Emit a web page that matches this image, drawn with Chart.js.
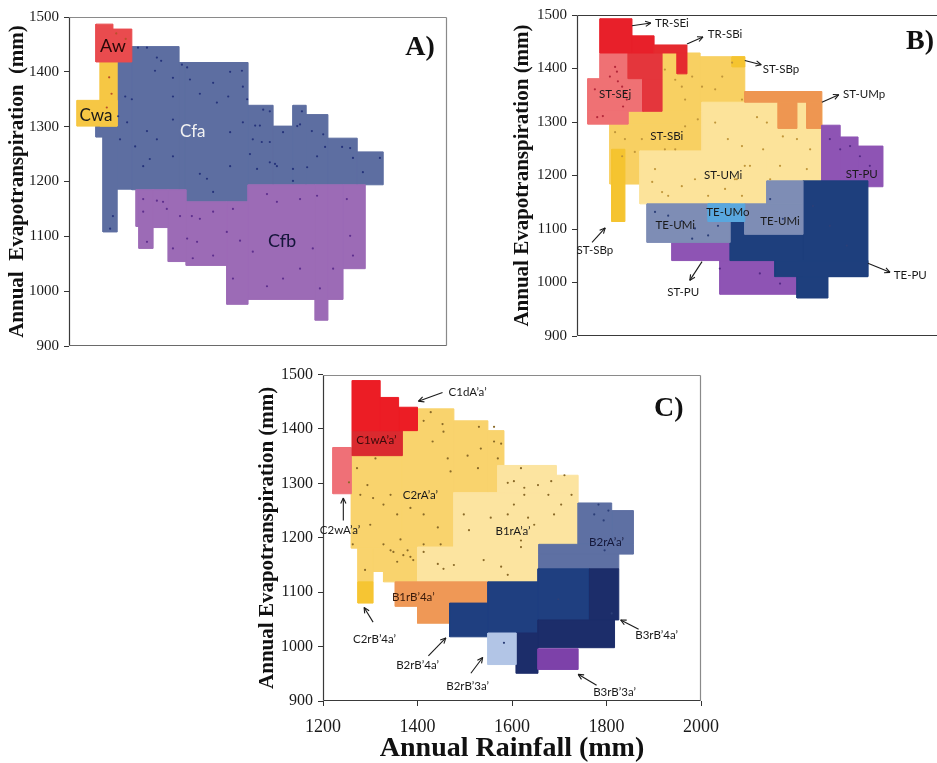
<!DOCTYPE html>
<html><head><meta charset="utf-8">
<script src="https://cdn.jsdelivr.net/npm/chart.js@4.4.1/dist/chart.umd.min.js"></script>
<style>
html,body{margin:0;padding:0;background:#fff;}
body{width:937px;height:763px;overflow:hidden;position:relative;}
canvas{position:absolute;}
</style></head><body>
<canvas id="cA" width="470" height="360" style="left:0px;top:0px"></canvas>
<canvas id="cB" width="460" height="350" style="left:505px;top:0px"></canvas>
<canvas id="cC" width="479" height="403" style="left:250px;top:360px"></canvas>
<script>
// ---- axes ----
const Y_TICKS = [900, 1000, 1100, 1200, 1300, 1400, 1500];
const X_TICKS = [1200, 1400, 1600, 1800, 2000];

// ---- regions: [rainfall from, rainfall to, ET from, ET to] ----
// Panel A (Köppen)
const A_AW  = [[1257,1333,1418,1478],[1257,1293,1478,1487]];
const A_CWA = [[1266,1302,1301,1418],[1217,1302,1301,1348]];
const A_CFA = [[1302,1333,1186,1418],[1333,1433,1185,1446],[1433,1446,1185,1417],[1446,1579,1163,1417],
  [1579,1632,1194,1339],[1632,1674,1194,1301],[1674,1702,1194,1339],[1702,1748,1194,1322],
  [1748,1810,1194,1279],[1810,1865,1194,1254],[1257,1302,1281,1301],[1272,1302,1108,1281]];
const A_CFB = [[1342,1348,1118,1185],[1348,1378,1078,1185],[1378,1410,1116,1185],[1410,1448,1054,1185],
  [1448,1534,1047,1163],[1534,1579,976,1163],[1579,1721,985,1194],[1721,1748,947,1194],
  [1748,1780,985,1194],[1780,1827,1041,1194]];
// Panel B (Holdridge-type zones)
const B_TRSEI  = [[1249,1317,1429,1493],[1317,1364,1429,1461]];
const B_TRSEI2 = [[1309,1381,1381,1429],[1340,1381,1320,1381]];
const B_TRSBI  = [[1364,1434,1429,1444],[1413,1434,1390,1429]];
const B_STSEJ  = [[1249,1309,1381,1429],[1223,1340,1320,1381],[1223,1309,1296,1320]];
const B_STSBI  = [[1270,1466,1184,1296],[1309,1466,1296,1320],[1381,1462,1320,1429],[1462,1557,1320,1422]];
const B_STUMI  = [[1466,1721,1190,1337],[1334,1604,1147,1246]];
const B_STSBP  = [[1274,1302,1114,1249],[1530,1557,1403,1422]];
const B_STUMP  = [[1557,1721,1337,1357],[1628,1668,1288,1337],[1689,1721,1288,1337]];
const B_STPU   = [[1721,1760,1179,1294],[1760,1798,1179,1272],[1798,1851,1179,1255],[1402,1526,1041,1075],[1504,1668,978,1041]];
const B_TEPU   = [[1681,1819,1011,1190],[1526,1681,1041,1114],[1621,1819,1011,1041],[1668,1734,971,1011]];
const B_TEUMI  = [[1349,1526,1075,1147],[1557,1681,1090,1147],[1604,1681,1147,1190]];
const B_TEUMO  = [[1479,1557,1114,1147]];
// Panel C (Thornthwaite)
const C_C1DA = [[1262,1321,1397,1489],[1321,1360,1397,1458],[1360,1400,1397,1440]];
const C_C1WA = [[1262,1368,1351,1397]];
const C_C2WA = [[1221,1260,1281,1366]];
const C_C2RA = [[1260,1368,1181,1351],[1368,1400,1181,1397],[1400,1477,1183,1437],[1477,1549,1283,1415],
  [1549,1583,1283,1397],[1274,1306,1119,1181],[1306,1328,1138,1181],[1328,1400,1119,1181]];
const C_B1RA = [[1570,1694,1283,1333],[1694,1740,1283,1315],[1477,1740,1183,1283],[1400,1657,1119,1183]];
const C_B2RA = [[1740,1811,1188,1264],[1811,1857,1188,1250],[1657,1857,1170,1188],[1657,1826,1143,1170]];
const C_B1RB4 = [[1353,1549,1080,1119],[1353,1400,1074,1080],[1400,1468,1043,1080]];
const C_C2RB4 = [[1274,1306,1080,1119]];
const C_B2RB4 = [[1468,1549,1018,1080],[1549,1655,1025,1119],[1655,1764,1049,1143]];
const C_B3RB4 = [[1764,1826,1049,1143],[1655,1817,998,1049],[1609,1655,951,1025]];
const C_B2RB3 = [[1549,1609,967,1025]];
const C_B3RB3 = [[1655,1740,958,996]];

// ---- station dots: [rainfall, ET] ----
const A_DOTS_CFA = [[1346,1444],[1365,1444],[1386,1426],[1395,1420],[1439,1413],[1450,1408],[1382,1402],[1420,1389],
 [1541,1400],[1456,1386],[1505,1380],[1319,1355],[1333,1350],[1420,1355],[1477,1360],[1513,1344],[1537,1355],
 [1304,1319],[1323,1308],[1365,1292],[1386,1277],[1420,1313],[1541,1290],[1308,1277],[1340,1264],[1371,1241],
 [1420,1246],[1357,1228],[1541,1228],[1477,1214],[1566,1402],[1568,1373],[1611,1331],[1625,1328],[1577,1350],
 [1568,1308],[1594,1302],[1604,1302],[1653,1290],[1683,1301],[1693,1328],[1689,1304],[1714,1292],[1738,1286],
 [1589,1277],[1608,1272],[1625,1272],[1742,1263],[1778,1263],[1795,1261],[1625,1235],[1636,1232],[1640,1228],
 [1598,1223],[1674,1223],[1704,1226],[1725,1246],[1801,1243],[1822,1217],[1858,1243],[1583,1250],[1492,1205],
 [1505,1181],[1674,1201],[1293,1137],[1287,1114]];
const A_DOTS_CFB = [[1357,1168],[1386,1165],[1399,1163],[1407,1150],[1357,1145],[1435,1137],[1460,1137],[1477,1132],
 [1505,1145],[1547,1150],[1619,1177],[1640,1163],[1689,1168],[1725,1174],[1788,1168],[1450,1096],[1471,1090],
 [1534,1108],[1562,1092],[1589,1072],[1505,1065],[1547,1023],[1619,1009],[1653,1023],[1689,1041],[1716,1078],
 [1759,1041],[1795,1101],[1801,1065],[1365,1090],[1420,1078],[1462,1060],[1731,1005]];
const A_DOTS_WARM = [[1300,1470],[1320,1460],[1310,1440],[1285,1390],[1290,1360],[1280,1335]];
const B_DOTS_RED = [[1281,1403],[1285,1394],[1270,1385],[1287,1376],[1296,1366],[1302,1355],[1306,1342],[1298,1329],
 [1243,1309],[1255,1311],[1238,1361]];
const B_DOTS_YEL = [[1387,1398],[1409,1379],[1423,1366],[1445,1385],[1466,1366],[1430,1342],[1494,1361],[1509,1385],
 [1530,1411],[1551,1342],[1281,1281],[1302,1268],[1338,1268],[1323,1244],[1296,1236],[1366,1212],[1387,1249],
 [1409,1249],[1430,1292],[1457,1305],[1494,1299],[1521,1268],[1551,1255],[1360,1188],[1381,1169],[1394,1162],
 [1423,1180],[1451,1193],[1479,1162],[1515,1175],[1536,1193],[1557,1218],[1551,1162],[1583,1309],[1604,1299],
 [1638,1273],[1668,1268],[1696,1249],[1596,1249],[1632,1218],[1568,1218],[1689,1212],[1611,1193],[1540,1193]];
const B_DOTS_PUR = [[1738,1268],[1760,1249],[1781,1255],[1802,1236],[1823,1218],[1504,1026],[1589,1017],[1632,998]];
const B_DOTS_BLU = [[1366,1132],[1394,1125],[1423,1115],[1451,1101],[1479,1088],[1445,1082],[1500,1106],[1702,1143],
 [1738,1106],[1774,1069],[1611,1156],[1638,1119]];
const C_DOTS_YEL = [[1413,1415],[1428,1431],[1453,1409],[1455,1395],[1432,1377],[1464,1346],[1470,1322],[1506,1351],
 [1311,1346],[1272,1328],[1294,1297],[1279,1279],[1306,1273],[1343,1279],[1328,1261],[1357,1243],[1385,1255],
 [1413,1243],[1443,1219],[1413,1188],[1364,1197],[1328,1188],[1343,1177],[1263,1188],[1300,1224],[1498,1243],
 [1509,1214],[1449,1188],[1530,1404],[1562,1404],[1534,1364],[1562,1377],[1577,1373],[1528,1328],[1570,1346],
 [1591,1301],[1619,1328],[1604,1304],[1626,1292],[1655,1297],[1626,1279],[1604,1261],[1704,1261],[1726,1279],
 [1677,1279],[1683,1304],[1711,1315],[1555,1237],[1591,1243],[1634,1237],[1647,1224],[1689,1243],[1619,1195],
 [1349,1174],[1370,1168],[1385,1165],[1391,1159],[1357,1156],[1289,1141],[1443,1152],[1455,1143],[1477,1150],
 [1379,1177],[1413,1174],[1540,1159],[1577,1147],[1591,1132],[1619,1183],[1255,1302]];
const C_DOTS_BLU = [[1783,1261],[1774,1243],[1804,1250],[1794,1232],[1796,1177],[1698,1087],[1811,1061],[1583,1007]];

// ---- builders ----
function rects(list, color) {
  return list.map(r => ({
    type: 'line',
    data: [{x:r[0],y:r[2]},{x:r[1],y:r[2]},{x:r[1],y:r[3]},{x:r[0],y:r[3]},{x:r[0],y:r[2]}],
    fill: 'shape', backgroundColor: color, borderColor: color, borderWidth: 1,
    pointRadius: 0, tension: 0
  }));
}
function dots(list, color) {
  return [{ type: 'line', showLine: false, data: list.map(p => ({x:p[0], y:p[1]})),
    pointRadius: 1.1, pointBorderWidth: 0, pointBackgroundColor: color,
    backgroundColor: color, borderColor: color }];
}
function overlay(cfg) {
  return { id: 'overlay', afterDatasetsDraw(chart) {
    const ctx = chart.ctx, a = chart.chartArea, sx = chart.scales.x, sy = chart.scales.y;
    ctx.save();
    const seg = (x1,y1,x2,y2,c,w) => { if(!c) return; ctx.strokeStyle=c; ctx.lineWidth=w||1.2; ctx.beginPath(); ctx.moveTo(x1,y1); ctx.lineTo(x2,y2); ctx.stroke(); };
    const L = Math.round(a.left)+0.5, R = Math.round(a.right)-0.5, T = Math.round(a.top)+0.5, B = Math.round(a.bottom)-0.5;
    seg(L,T,R,T,cfg.frame.top); seg(R,T,R,B,cfg.frame.right); seg(L,B,R,B,cfg.frame.bottom); seg(L,T,L,B,cfg.frame.left);
    for (const ar of cfg.arrows) {
      const x1 = sx.getPixelForValue(ar[0]), y1 = sy.getPixelForValue(ar[1]);
      const x2 = sx.getPixelForValue(ar[2]), y2 = sy.getPixelForValue(ar[3]);
      seg(x1,y1,x2,y2,'#1a1a1a',1.1);
      const ang = Math.atan2(y2-y1, x2-x1), h = 6;
      seg(x2,y2,x2-h*Math.cos(ang-0.45),y2-h*Math.sin(ang-0.45),'#1a1a1a',1.1);
      seg(x2,y2,x2-h*Math.cos(ang+0.45),y2-h*Math.sin(ang+0.45),'#1a1a1a',1.1);
    }
    ctx.textAlign = 'center'; ctx.textBaseline = 'middle';
    for (const lb of cfg.labels) {
      ctx.font = lb.font || ('11.5px Lato');
      ctx.fillStyle = lb.color || '#1a1a1a';
      ctx.fillText(lb.t, sx.getPixelForValue(lb.x), sy.getPixelForValue(lb.y));
    }
    ctx.restore();
  }};
}
function makeChart(id, layers, cfg) {
  const datasets = layers.flat().reverse();
  new Chart(document.getElementById(id), {
    type: 'line',
    data: { datasets },
    options: {
      responsive: false, animation: false, devicePixelRatio: 1, events: [],
      layout: { padding: cfg.padding },
      plugins: { legend: {display:false}, tooltip: {enabled:false} },
      scales: {
        x: { type:'linear', min:1200, max:2000, display: cfg.showX,
          afterBuildTicks: s => { s.ticks = X_TICKS.map(v => ({value:v})); },
          afterFit: s => { s.height = cfg.xHeight; },
          border: {display:false},
          grid: {drawOnChartArea:false, drawTicks:true, tickLength:5, color:'#333', tickColor:'#333'},
          ticks: {font:{family:'Liberation Serif', size:18}, color:'#1a1a1a', padding:10, maxRotation:0, autoSkip:false,
                  callback: v => String(v)},
          title: {display: !!cfg.xTitle, text: cfg.xTitle || '', font:{family:'Liberation Serif', size:28, weight:'bold', lineHeight:1}, color:'#111', padding:{top:0,bottom:0}} },
        y: { type:'linear', min:900, max:1500,
          afterBuildTicks: s => { s.ticks = Y_TICKS.map(v => ({value:v})); },
          afterFit: s => { s.width = cfg.yWidth; },
          border: {display:false},
          grid: {drawOnChartArea:false, drawTicks:true, tickLength:5, color:'#333', tickColor:'#333'},
          ticks: {font:{family:'Liberation Serif', size:cfg.yTickSize}, color:'#1a1a1a', padding:5,
                  callback: v => String(v)},
          title: {display:true, text: cfg.yTitle, font:{family:'Liberation Serif', size:21, weight:'bold'}, color:'#111', padding:{top:cfg.yTitlePad,bottom:0}} }
      }
    },
    plugins: [overlay(cfg)]
  });
}

const SERIF_BIG = 'bold 28px "Liberation Serif"';

// ---- Panel A ----
makeChart('cA', [
  rects(A_CFA,'#5D6EA1'), rects(A_CFB,'#9C6BB6'), rects(A_CWA,'#F6C744'), rects(A_AW,'#E94B4E'),
  dots(A_DOTS_CFA,'#26347c'), dots(A_DOTS_CFB,'#5e2f8e'), dots(A_DOTS_WARM,'#b8502a')
], {
  padding:{left:0,right:23,top:17,bottom:12}, showX:false, xHeight:0, yWidth:69, yTickSize:15, yTitlePad:5,
  yTitle:'Annual  Evapotranspiration  (mm)',
  frame:{top:'#8a8a8a', right:'#8a8a8a', bottom:'#6a6a6a', left:'#3a3a3a'},
  arrows:[],
  labels:[
    {t:'Aw', x:1293, y:1446, font:'18px Lato', color:'#2a0808'},
    {t:'Cwa', x:1257, y:1321, font:'17px Lato', color:'#1a1a1a'},
    {t:'Cfa', x:1462, y:1292, font:'17px Lato', color:'#f2f2f2'},
    {t:'Cfb', x:1651, y:1092, font:'18px Lato', color:'#15153a'},
    {t:'A)', x:1943, y:1444, font:SERIF_BIG, color:'#111'}
  ]
});

// ---- Panel B ----
makeChart('cB', [
  rects(B_STSBI,'#F8D062'), rects(B_STUMI,'#FCE39A'), rects(B_STUMP,'#EE9651'), rects(B_STSBP,'#F5C430'),
  rects(B_STSEJ,'#EF7174'), rects(B_TRSEI2,'#E4363C'), rects(B_TRSEI,'#E8202A'), rects(B_TRSBI,'#E52A2F'),
  rects(B_STPU,'#8E54B4'), rects(B_TEPU,'#1E3F7D'), rects(B_TEUMI,'#7E8DB5'), rects(B_TEUMO,'#59A7DE'),
  dots(B_DOTS_RED,'#b3283a'), dots(B_DOTS_YEL,'#c0963a'), dots(B_DOTS_PUR,'#552a86'), dots(B_DOTS_BLU,'#2c3f78')
], {
  padding:{left:0,right:12,top:15,bottom:12}, showX:false, xHeight:0, yWidth:72, yTickSize:15, yTitlePad:5,
  yTitle:'Annual Evapotranspiration (mm)',
  frame:{top:'#3a3a3a', right:null, bottom:'#3a3a3a', left:'#3a3a3a'},
  arrows:[
    [1317,1480,1357,1485],[1434,1446,1468,1459],[1557,1415,1592,1407],[1721,1337,1757,1351],
    [1232,1075,1260,1102],[1466,1039,1440,1004],[1819,1036,1866,1019]
  ],
  labels:[
    {t:'TR-SEi', x:1402, y:1485}, {t:'TR-SBi', x:1515, y:1463}, {t:'ST-SBp', x:1634, y:1398},
    {t:'ST-UMp', x:1811, y:1351}, {t:'ST-SEj', x:1281, y:1351}, {t:'ST-SBi', x:1391, y:1273},
    {t:'ST-UMi', x:1511, y:1201}, {t:'ST-PU', x:1806, y:1203}, {t:'TE-UMo', x:1521, y:1132},
    {t:'TE-UMi', x:1409, y:1106}, {t:'TE-UMi', x:1632, y:1114}, {t:'ST-SBp', x:1238, y:1060},
    {t:'ST-PU', x:1426, y:982}, {t:'TE-PU', x:1909, y:1013},
    {t:'B)', x:1930, y:1450, font:SERIF_BIG, color:'#111'}
  ]
});

// ---- Panel C ----
makeChart('cC', [
  rects(C_C2RA,'#F9D36D'), rects(C_B1RA,'#FCE4A0'), rects(C_B2RA,'#5E70A3'), rects(C_C2WA,'#EF7077'),
  rects(C_C1WA,'#DA2A2F'), rects(C_C1DA,'#EC1D25'), rects(C_B1RB4,'#EF9856'), rects(C_C2RB4,'#F6C533'),
  rects(C_B2RB4,'#1F3F80'), rects(C_B3RB4,'#1C2D6A'), rects(C_B2RB3,'#B2C5E6'), rects(C_B3RB3,'#7D41A9'),
  dots(C_DOTS_YEL,'#8a6a28'), dots(C_DOTS_BLU,'#2c3f78')
], {
  padding:{left:0,right:20,top:10,bottom:0}, showX:true, xHeight:62, yWidth:73, yTickSize:16, yTitlePad:5,
  yTitle:'Annual Evapotranspiration (mm)', xTitle:'Annual Rainfall (mm)',
  frame:{top:'#8a8a8a', right:'#8a8a8a', bottom:'#3a3a3a', left:'#3a3a3a'},
  arrows:[
    [1453,1467,1402,1451],[1243,1232,1243,1273],[1306,1045,1287,1072],[1423,983,1460,1016],
    [1513,951,1538,980],[1868,1032,1830,1049],[1779,929,1740,949]
  ],
  labels:[
    {t:'C1dA’a’', x:1506, y:1467}, {t:'C1wA’a’', x:1313, y:1379, color:'#3a0a0a'},
    {t:'C2rA’a’', x:1406, y:1279}, {t:'C2wA’a’', x:1236, y:1214}, {t:'B1rA’a’', x:1602, y:1212},
    {t:'B2rA’a’', x:1800, y:1192, color:'#15183a'}, {t:'B1rB’4a’', x:1391, y:1090, color:'#3a1a0a'},
    {t:'C2rB’4a’', x:1309, y:1014}, {t:'B2rB’4a’', x:1400, y:965}, {t:'B2rB’3a’', x:1506, y:927},
    {t:'B3rB’4a’', x:1906, y:1020}, {t:'B3rB’3a’', x:1817, y:916},
    {t:'C)', x:1932, y:1437, font:SERIF_BIG, color:'#111'}
  ]
});
</script>
</body></html>
